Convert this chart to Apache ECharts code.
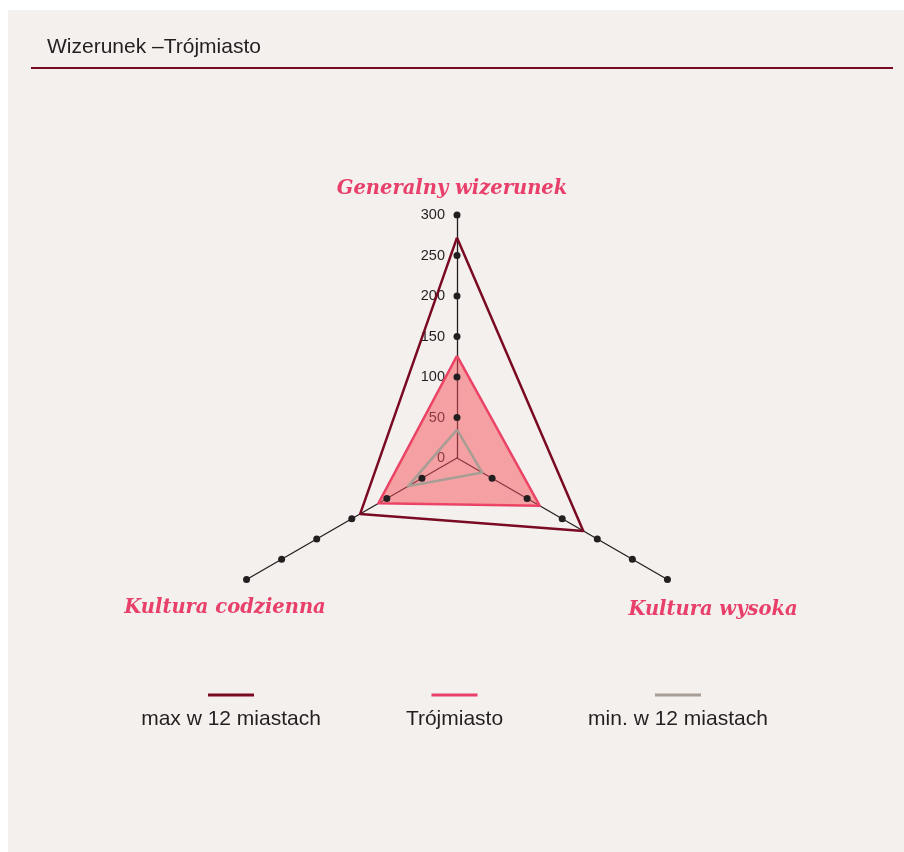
<!DOCTYPE html>
<html>
<head>
<meta charset="utf-8">
<script src="https://cdn.jsdelivr.net/npm/echarts@6/dist/echarts.min.js"></script>
<style>
html,body{margin:0;padding:0;background:#ffffff;}
#chart{width:904px;height:852px;}
</style>
</head>
<body>
<div id="chart"></div>
<script>
// ---- data ----
var title = 'Wizerunek \u2013Trójmiasto';
// radar order (counter-clockwise from top)
var indicators = ['Generalny wizerunek', 'Kultura codzienna', 'Kultura wysoka'];
var axisMax = 300;
var tickValues = [50, 100, 150, 200, 250, 300];
var seriesNames = ['max w 12 miastach', 'Trójmiasto', 'min. w 12 miastach'];
var maxValues = [272, 138, 180];
var trojmiastoValues = [126, 112, 118];
var minValues = [35, 70, 36];

var colMax = '#7a0a22';
var colCity = '#e8406a';
var colMin = '#a89d95';
var colors = [colMax, colCity, colMin];

var chart = echarts.init(document.getElementById('chart'), null, {renderer: 'canvas'});

var dotData = tickValues.map(function (v) {
  return { value: indicators.map(function () { return v; }) };
});

var legendRich = {
  t: { fontFamily: 'Liberation Sans, Arial, sans-serif', fontSize: 21, color: '#231f20', align: 'center', lineHeight: 26 }
};
colors.forEach(function (c, i) {
  legendRich['l' + i] = { width: 46, height: 3, backgroundColor: c, align: 'center', lineHeight: 22 };
});

var nameStyle = { fontFamily: 'DejaVu Serif, serif', fontStyle: 'italic', fontWeight: 'bold', fontSize: 19.5, fill: colCity, align: 'center', verticalAlign: 'middle' };

var option = {
  backgroundColor: 'transparent',
  animation: false,
  graphic: [
    { type: 'rect', z: -10, shape: { x: 8, y: 10, width: 896, height: 842 }, style: { fill: '#f4f0ed' } },
    { type: 'text', x: 47, y: 47, style: { text: title, fontFamily: 'Liberation Sans, Arial, sans-serif', fontSize: 21, fill: '#231f20', verticalAlign: 'middle' } },
    { type: 'rect', shape: { x: 31, y: 67, width: 862, height: 2 }, style: { fill: colMax } },
    { type: 'text', x: 452, y: 189, style: Object.assign({ text: indicators[0] }, nameStyle) },
    { type: 'text', x: 225, y: 608, style: Object.assign({ text: indicators[1] }, nameStyle) },
    { type: 'text', x: 713, y: 610, style: Object.assign({ text: indicators[2] }, nameStyle) }
  ],
  legend: {
    data: seriesNames.map(function (n) { return { name: n, icon: 'none' }; }),
    left: 'center',
    top: 684,
    itemWidth: 0,
    itemHeight: 0,
    itemGap: 80,
    selectedMode: false,
    formatter: function (name) {
      var i = seriesNames.indexOf(name);
      return '{l' + i + '|}\n{t|' + name + '}';
    },
    textStyle: { rich: legendRich }
  },
  radar: {
    center: [457, 458],
    radius: 243,
    startAngle: 90,
    splitNumber: 6,
    shape: 'polygon',
    indicator: indicators.map(function (n, i) {
      var ind = { name: n, max: axisMax, min: 0 };
      if (i === 0) {
        ind.axisLabel = { show: true };
      }
      return ind;
    }),
    axisName: { show: false },
    axisLine: { show: true, lineStyle: { color: '#231f20', width: 1.3 } },
    axisTick: { show: false },
    axisLabel: { show: false, color: '#231f20', fontSize: 14.5, fontFamily: 'Liberation Sans, Arial, sans-serif', margin: 12, padding: [4, 0, 0, 0] },
    splitLine: { show: false },
    splitArea: { show: false }
  },
  series: [
    {
      type: 'radar',
      z: 2,
      symbol: 'none',
      data: [
        { name: seriesNames[0], value: maxValues,
          lineStyle: { color: colMax, width: 2.5 }, itemStyle: { color: colMax } },
        { name: seriesNames[1], value: trojmiastoValues,
          lineStyle: { color: colCity, width: 2.5 }, itemStyle: { color: colCity },
          areaStyle: { color: '#f65059', opacity: 0.5 } },
        { name: seriesNames[2], value: minValues,
          lineStyle: { color: colMin, width: 2.5 }, itemStyle: { color: colMin } }
      ]
    },
    {
      type: 'radar',
      name: 'ticks',
      z: 3,
      symbol: 'circle',
      symbolSize: 7,
      silent: true,
      lineStyle: { opacity: 0, width: 0 },
      itemStyle: { color: '#231f20' },
      data: dotData
    }
  ]
};
chart.setOption(option);
</script>
</body>
</html>
